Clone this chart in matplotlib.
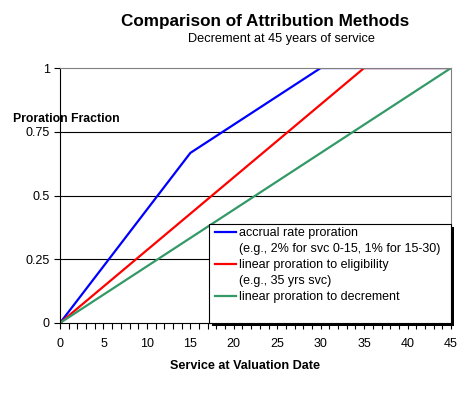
import matplotlib
matplotlib.use("Agg")
import matplotlib.pyplot as plt
from matplotlib.lines import Line2D
from matplotlib.patches import Rectangle
from matplotlib.ticker import MultipleLocator

plt.rcParams['font.family'] = ['Liberation Sans', 'DejaVu Sans']

# breakpoints of each proration method (service years, fraction)
accrual_x = [0, 15, 30, 45]
accrual_y = [0, 0.667, 1, 1]
eligibility_x = [0, 35, 45]
eligibility_y = [0, 1, 1]
decrement_x = [0, 45]
decrement_y = [0, 1]

labels = ["accrual rate proration", "(e.g., 2% for svc 0-15, 1% for 15-30)",
          "linear proration to eligibility", "(e.g., 35 yrs svc)",
          "linear proration to decrement"]
yticks = [0, 0.25, 0.5, 0.75, 1]
ytick_labels = ["0", "0.25", "0.5", "0.75", "1"]

fig = plt.figure(figsize=(4.7, 3.97), dpi=100)
ax = fig.add_axes([0.1277, 0.1864, 0.8319, 0.6423])

ax.plot(accrual_x, accrual_y, color='#0000ff', lw=1.6)
ax.plot(eligibility_x, eligibility_y, color='#ff0000', lw=1.6)
ax.plot(decrement_x, decrement_y, color='#339966', lw=1.6)

ax.set_xlim(0, 45)
ax.set_ylim(0, 1)
ax.xaxis.set_major_locator(MultipleLocator(5))
ax.xaxis.set_minor_locator(MultipleLocator(1))
ax.set_yticks(yticks)
ax.set_yticklabels(ytick_labels)
ax.tick_params(axis='both', labelsize=9, direction='out', length=4, width=0.8, colors='black')
ax.tick_params(axis='x', which='minor', direction='out', length=4, width=0.8)
ax.tick_params(axis='x', pad=7)

for y in [0.25, 0.5, 0.75]:
    ax.axhline(y, color='black', lw=0.8, zorder=0)

ax.spines['top'].set_color('#808080')
ax.spines['right'].set_color('#808080')
ax.spines['left'].set_color('black')
ax.spines['bottom'].set_color('black')

# legend box drawn by hand (excel style, with black shadow)
box_x0, box_y0, box_w, box_h = 0.381, 0.0, 0.619, 0.39
ax.add_patch(Rectangle((box_x0 + 0.0077, box_y0 - 0.0118), box_w, box_h, transform=ax.transAxes,
                       facecolor='black', edgecolor='none', clip_on=False, zorder=4))
ax.add_patch(Rectangle((box_x0, box_y0), box_w, box_h, transform=ax.transAxes,
                       facecolor='white', edgecolor='black', lw=0.8, clip_on=False, zorder=5))

handles = [Line2D([], [], color='#0000ff', lw=1.6),
           Line2D([], [], color='none'),
           Line2D([], [], color='#ff0000', lw=1.6),
           Line2D([], [], color='none'),
           Line2D([], [], color='#339966', lw=1.6)]
leg = ax.legend(handles, labels, loc='upper left', bbox_to_anchor=(0.386, 0.39),
                fontsize=9, frameon=False, handlelength=1.7, handletextpad=0.25,
                labelspacing=0.32, borderpad=0.3, borderaxespad=0)
leg.set_zorder(6)

fig.text(0.565, 0.947, "Comparison of Attribution Methods", ha='center', va='center',
         fontsize=12.3, fontweight='bold')
fig.text(0.6, 0.902, "Decrement at 45 years of service", ha='center', va='center', fontsize=9.2)
fig.text(0.028, 0.7, "Proration Fraction", ha='left', va='center', fontsize=8.8, fontweight='bold')
fig.text(0.521, 0.078, "Service at Valuation Date", ha='center', va='center',
         fontsize=9.1, fontweight='bold')

fig.savefig("out.png", dpi=100)
